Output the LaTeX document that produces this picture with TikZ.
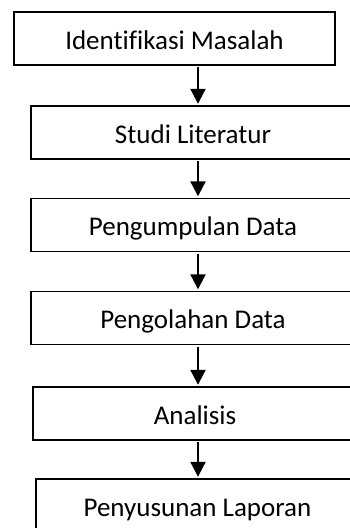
\documentclass[tikz,border=0pt]{standalone}
\usepackage{fontspec}
\setmainfont[Ligatures=CommonOff]{Carlito}
\usetikzlibrary{arrows.meta}
\begin{document}
\begin{tikzpicture}[x=1pt,y=-1pt,
  box/.style={draw=black, line width=1.4pt, rectangle, inner sep=0pt,
    minimum height=53pt, text height=21.5pt, text depth=0pt,
    font=\fontsize{27}{31}\selectfont},
  arr/.style={line width=2.2pt, -{Triangle[length=15pt,width=15pt]},
    shorten <=1.5pt, shorten >=1.5pt}]
\useasboundingbox (0,0) rectangle (350,528);
\node[box, minimum width=321pt] (b1) at (174.5,38.5) {Identifikasi Masalah};
\node[box, minimum width=324pt] (b2) at (193,132.5) {Studi Literatur};
\node[box, minimum width=324pt] (b3) at (193,225) {Pengumpulan Data};
\node[box, minimum width=324pt] (b4) at (193,318) {Pengolahan Data};
\node[box, minimum width=324pt] (b5) at (195,413.5) {Analisis};
\node[box, minimum width=323pt] (b6) at (197.5,505.5) {Penyusunan Laporan};
\coordinate (ax) at (198,0);
\draw[arr] (b1.south -| ax) -- (b2.north -| ax);
\draw[arr] (b2.south -| ax) -- (b3.north -| ax);
\draw[arr] (b3.south -| ax) -- (b4.north -| ax);
\draw[arr] (b4.south -| ax) -- (b5.north -| ax);
\draw[arr] (b5.south -| ax) -- (b6.north -| ax);
\end{tikzpicture}
\end{document}
